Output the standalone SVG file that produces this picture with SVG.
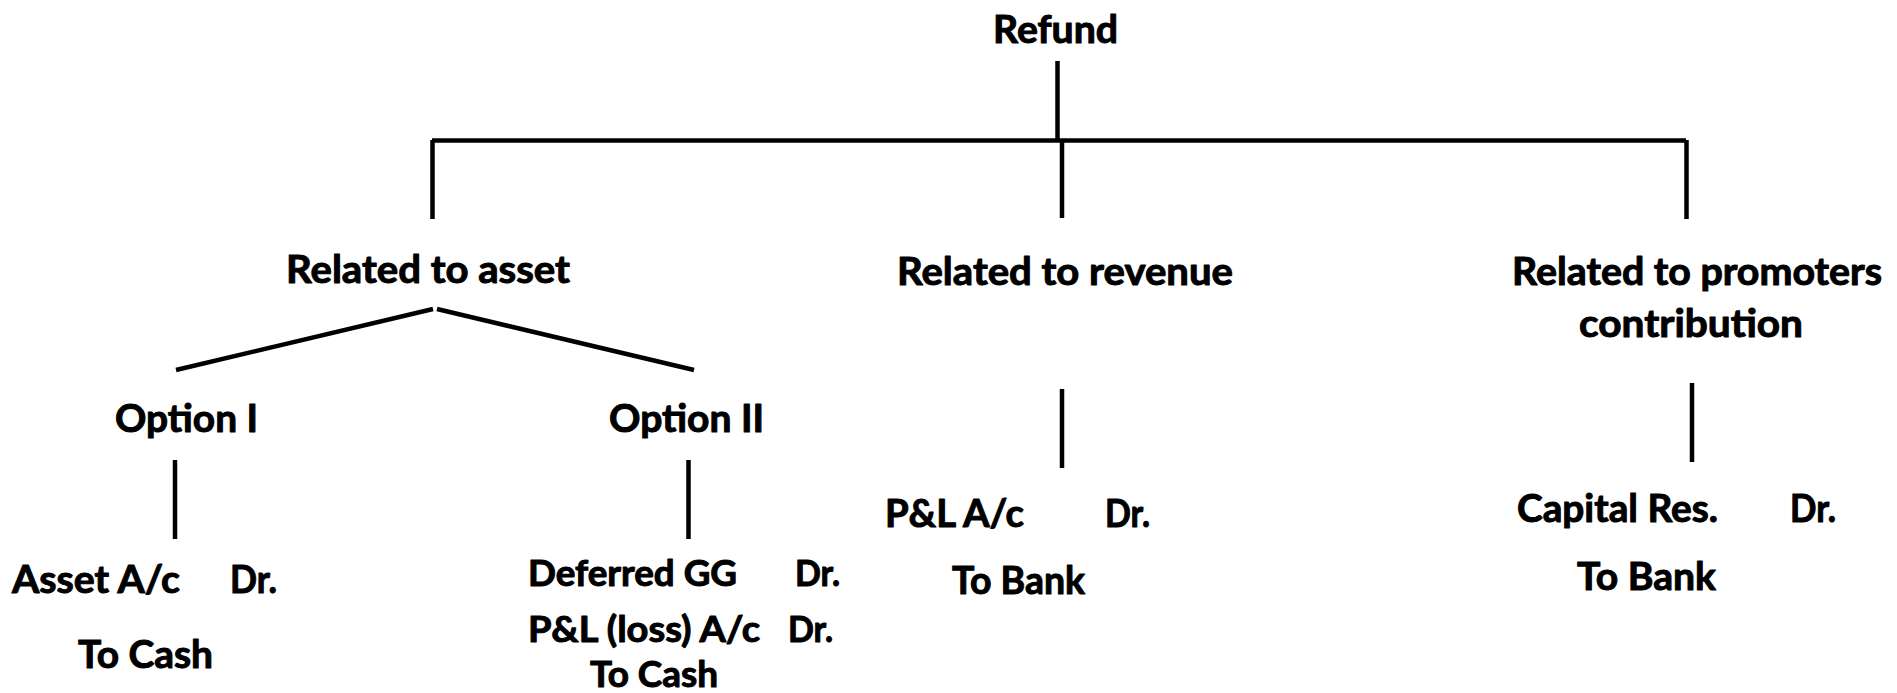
<svg xmlns="http://www.w3.org/2000/svg" width="1897" height="693" viewBox="0 0 1897 693">
<style>
  text { font-family: Lato, "Open Sans", "Liberation Sans", sans-serif; font-weight: 700; fill: #000; stroke: #000; stroke-width: 1; stroke-linejoin: round; }
  .t { font-size: 39px; }
  .s { font-size: 36px; }
  .ln { stroke: #000; stroke-width: 4.5; fill: none; stroke-linecap: butt; }
</style>
<rect width="1897" height="693" fill="#fff"/>
<g id="connectors">
  <line class="ln" x1="1057.5" y1="61" x2="1057.5" y2="139"/>
  <line class="ln" x1="432" y1="140.5" x2="1686" y2="140.5"/>
  <line class="ln" x1="432.5" y1="140" x2="432.5" y2="219"/>
  <line class="ln" x1="1062" y1="140" x2="1062" y2="218"/>
  <line class="ln" x1="1686.5" y1="140" x2="1686.5" y2="219"/>
  <line class="ln" x1="176" y1="370" x2="433" y2="309"/>
  <line class="ln" x1="437" y1="309" x2="694" y2="370"/>
  <line class="ln" x1="175" y1="460" x2="175" y2="539"/>
  <line class="ln" x1="688.5" y1="460" x2="688.5" y2="539"/>
  <line class="ln" x1="1062" y1="389" x2="1062" y2="468"/>
  <line class="ln" x1="1692" y1="383" x2="1692" y2="462"/>
</g>
<g id="refund">
  <text class="t" x="993" y="43" textLength="125" lengthAdjust="spacingAndGlyphs">Refund</text>
</g>
<g id="asset">
  <text class="t" x="286" y="283" textLength="284" lengthAdjust="spacingAndGlyphs">Related to asset</text>
</g>
<g id="revenue">
  <text class="t" x="897" y="285" textLength="336" lengthAdjust="spacingAndGlyphs">Related to revenue</text>
</g>
<g id="promoters">
  <text class="t" x="1512" y="285" textLength="370" lengthAdjust="spacingAndGlyphs">Related to promoters</text>
  <text class="t" x="1579" y="337" textLength="224" lengthAdjust="spacingAndGlyphs">contribution</text>
</g>
<g id="option1">
  <text class="t" x="115" y="432" textLength="143" lengthAdjust="spacingAndGlyphs">Option I</text>
</g>
<g id="option2">
  <text class="t" x="609" y="432" textLength="155" lengthAdjust="spacingAndGlyphs">Option II</text>
</g>
<g id="entry1">
  <text class="t" x="12" y="593" textLength="168" lengthAdjust="spacingAndGlyphs">Asset A/c</text>
  <text class="t" x="230" y="593" textLength="47" lengthAdjust="spacingAndGlyphs">Dr.</text>
  <text class="t" x="78" y="668" textLength="135" lengthAdjust="spacingAndGlyphs">To Cash</text>
</g>
<g id="entry2">
  <text class="s" x="528" y="586" textLength="209" lengthAdjust="spacingAndGlyphs">Deferred GG</text>
  <text class="s" x="795" y="586" textLength="45" lengthAdjust="spacingAndGlyphs">Dr.</text>
  <text class="s" x="528" y="642" textLength="232" lengthAdjust="spacingAndGlyphs">P&amp;L (loss) A/c</text>
  <text class="s" x="788" y="642" textLength="45" lengthAdjust="spacingAndGlyphs">Dr.</text>
  <text class="s" x="590" y="687" textLength="128" lengthAdjust="spacingAndGlyphs">To Cash</text>
</g>
<g id="entry3">
  <text class="t" x="885" y="527" textLength="139" lengthAdjust="spacingAndGlyphs">P&amp;L A/c</text>
  <text class="t" x="1105" y="527" textLength="45" lengthAdjust="spacingAndGlyphs">Dr.</text>
  <text class="t" x="952" y="594" textLength="133" lengthAdjust="spacingAndGlyphs">To Bank</text>
</g>
<g id="entry4">
  <text class="t" x="1517" y="522" textLength="201" lengthAdjust="spacingAndGlyphs">Capital Res.</text>
  <text class="t" x="1790" y="522" textLength="46" lengthAdjust="spacingAndGlyphs">Dr.</text>
  <text class="t" x="1577" y="590" textLength="139" lengthAdjust="spacingAndGlyphs">To Bank</text>
</g>
</svg>
